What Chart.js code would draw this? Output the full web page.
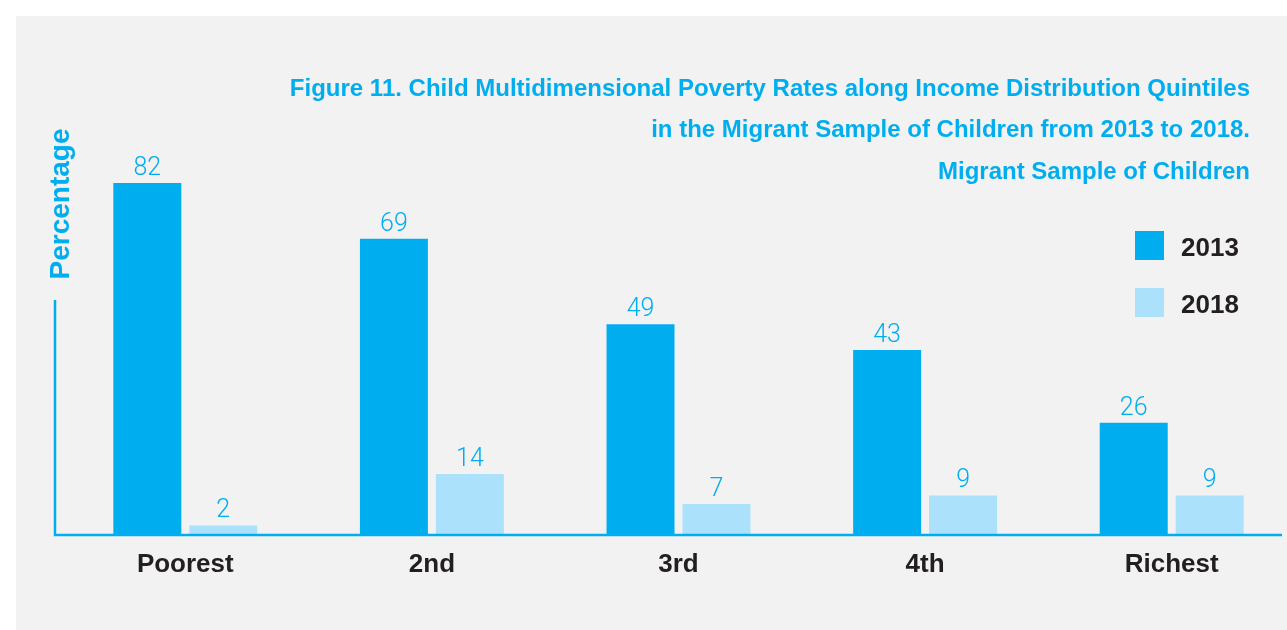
<!DOCTYPE html>
<html>
<head>
<meta charset="utf-8">
<script src="https://cdn.jsdelivr.net/npm/chart.js@4.4.0/dist/chart.umd.min.js"></script>
<style>
  html, body { margin: 0; padding: 0; background: #ffffff; }
  #wrap { position: relative; width: 1287px; height: 630px; overflow: hidden; background: #ffffff; }
  #panel { position: absolute; left: 16px; top: 16px; width: 1271px; height: 614px; background: #f2f2f2; }
  #c { position: absolute; left: 0; top: 0; }
  .t { position: absolute; font-family: "Liberation Sans", Arial, Helvetica, sans-serif; font-weight: bold; white-space: nowrap; }
  .title { right: 37px; font-size: 24px; line-height: 24px; color: #00aeef; text-align: right; }
  #ylab { left: -40px; top: 189.5px; width: 200px; height: 28px; font-size: 28px; line-height: 28px; color: #00aeef; text-align: center; transform: rotate(-90deg); transform-origin: 50% 50%; }
  .legbox { position: absolute; left: 1135px; width: 29px; height: 29px; }
  .legtxt { left: 1181px; font-size: 26px; line-height: 26px; color: #231f20; }
</style>
</head>
<body>
<div id="wrap">
  <div id="panel"></div>
  <canvas id="c" width="1300" height="630"></canvas>
  <div class="t title" style="top:76px">Figure 11. Child Multidimensional Poverty Rates along Income Distribution Quintiles</div>
  <div class="t title" style="top:117px">in the Migrant Sample of Children from 2013 to 2018.</div>
  <div class="t title" style="top:159px">Migrant Sample of Children</div>
  <div class="t" id="ylab">Percentage</div>
  <div id="legend"></div>
</div>
<script>
const categories = ["Poorest", "2nd", "3rd", "4th", "Richest"];
const seriesNames = ["2013", "2018"];
const values2013 = [82, 69, 49, 43, 26];
const values2018 = [2, 14, 7, 9, 9];
const colors = ["#00aeef", "#abe1fa"];

// HTML legend built from the series
const legend = document.getElementById('legend');
const legTops = [231, 288];
seriesNames.forEach((name, i) => {
  const b = document.createElement('div');
  b.className = 'legbox';
  b.style.top = legTops[i] + 'px';
  b.style.background = colors[i];
  legend.appendChild(b);
  const t = document.createElement('div');
  t.className = 't legtxt';
  t.style.top = (legTops[i] + 3) + 'px';
  t.textContent = name;
  legend.appendChild(t);
});

const valueLabels = {
  id: 'valueLabels',
  afterDatasetsDraw(chart) {
    const ctx = chart.ctx;
    ctx.save();
    ctx.fillStyle = '#00aeef';
    ctx.font = '300 25px Roboto, "Liberation Sans", Arial, sans-serif';
    ctx.textAlign = 'center';
    ctx.textBaseline = 'alphabetic';
    chart.data.datasets.forEach((ds, di) => {
      const meta = chart.getDatasetMeta(di);
      meta.data.forEach((bar, i) => {
        ctx.fillText(String(ds.data[i]), bar.x, bar.y - 8);
      });
    });
    ctx.restore();
  }
};

const axisLines = {
  id: 'axisLines',
  afterDatasetsDraw(chart) {
    const ctx = chart.ctx;
    const a = chart.chartArea;
    ctx.save();
    ctx.strokeStyle = '#00aeef';
    ctx.lineWidth = 2.5;
    ctx.beginPath();
    ctx.moveTo(55, 300);
    ctx.lineTo(55, a.bottom + 1);
    ctx.lineTo(1282, a.bottom + 1);
    ctx.stroke();
    ctx.restore();
  }
};

new Chart(document.getElementById('c'), {
  type: 'bar',
  data: {
    labels: categories,
    datasets: [
      { label: seriesNames[0], data: values2013, backgroundColor: colors[0], borderWidth: 0 },
      { label: seriesNames[1], data: values2018, backgroundColor: colors[1], borderWidth: 0 }
    ]
  },
  options: {
    responsive: false,
    devicePixelRatio: 1,
    animation: false,
    layout: { padding: { left: 62, right: 5, top: 106, bottom: 0 } },
    datasets: { bar: { categoryPercentage: 0.616, barPercentage: 0.895 } },
    plugins: { legend: { display: false }, tooltip: { enabled: false }, title: { display: false } },
    scales: {
      y: { display: false, min: 0, max: 100 },
      x: {
        grid: { display: false, drawTicks: false },
        border: { display: false },
        ticks: {
          color: '#231f20',
          padding: 15,
          font: { family: '"Liberation Sans", Arial, sans-serif', size: 26, weight: 'bold' }
        },
        afterFit(scale) { scale.height = 96; }
      }
    }
  },
  plugins: [valueLabels, axisLines]
});
</script>
</body>
</html>
